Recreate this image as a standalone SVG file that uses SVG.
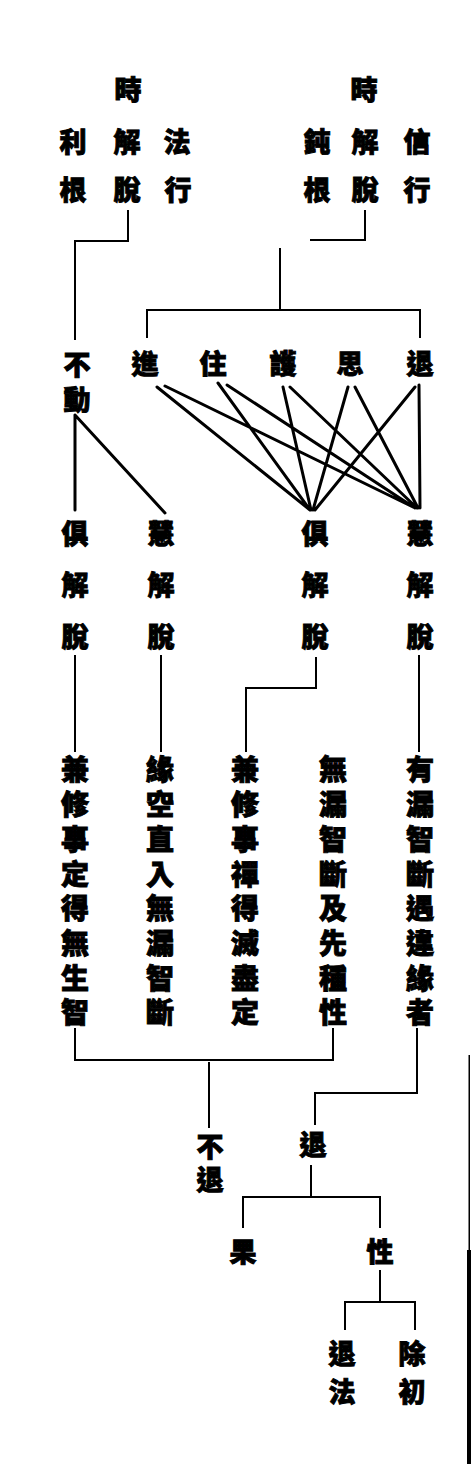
<svg xmlns="http://www.w3.org/2000/svg" width="472" height="1464" viewBox="0 0 472 1464">
<style>
.t{font-family:"Noto Sans CJK TC","Noto Sans CJK SC",sans-serif;font-weight:900;font-size:27px;fill:#000;stroke:#000;stroke-width:0.9;text-anchor:middle;dominant-baseline:central}
.c{font-size:28px}
.l{stroke:#000;stroke-width:2;fill:none}
.d{stroke:#000;stroke-width:3;fill:none;stroke-linecap:round}
</style>
<rect width="472" height="1464" fill="#fff"/>
<g id="top-left">
<text class="t" x="128" y="88">時</text>
<text class="t" x="73" y="140">利</text><text class="t" x="127" y="140">解</text><text class="t" x="177" y="140">法</text>
<text class="t" x="73" y="188">根</text><text class="t" x="127" y="188">脫</text><text class="t" x="178" y="188">行</text>
</g>
<g id="top-right">
<text class="t" x="364" y="88">時</text>
<text class="t" x="317" y="140">鈍</text><text class="t" x="365" y="140">解</text><text class="t" x="417" y="140">信</text>
<text class="t" x="317" y="188">根</text><text class="t" x="365" y="188">脫</text><text class="t" x="417" y="188">行</text>
</g>
<g id="budong"><text class="t" x="77" y="363">不</text><text class="t" x="77" y="398">動</text></g>
<g id="jin"><text class="t" x="145" y="362">進</text></g>
<g id="zhu"><text class="t" x="213" y="362">住</text></g>
<g id="hu"><text class="t" x="283" y="362">護</text></g>
<g id="si"><text class="t" x="350" y="362">思</text></g>
<g id="tui1"><text class="t" x="420" y="362">退</text></g>
<g id="ju1"><text class="t" x="75" y="532">俱</text><text class="t" x="75" y="583">解</text><text class="t" x="75" y="635">脫</text></g>
<g id="hui1"><text class="t" x="161" y="532">慧</text><text class="t" x="161" y="583">解</text><text class="t" x="161" y="635">脫</text></g>
<g id="ju2"><text class="t" x="315" y="532">俱</text><text class="t" x="315" y="583">解</text><text class="t" x="315" y="635">脫</text></g>
<g id="hui2"><text class="t" x="420" y="532">慧</text><text class="t" x="420" y="583">解</text><text class="t" x="420" y="635">脫</text></g>
<g id="col1"><text class="t c" x="75" y="768">兼</text><text class="t c" x="75" y="803">修</text><text class="t c" x="75" y="838">事</text><text class="t c" x="75" y="873">定</text><text class="t c" x="75" y="907">得</text><text class="t c" x="75" y="942">無</text><text class="t c" x="75" y="977">生</text><text class="t c" x="75" y="1011">智</text></g>
<g id="col2"><text class="t c" x="160" y="768">緣</text><text class="t c" x="160" y="803">空</text><text class="t c" x="160" y="838">直</text><text class="t c" x="160" y="873">入</text><text class="t c" x="160" y="907">無</text><text class="t c" x="160" y="942">漏</text><text class="t c" x="160" y="977">智</text><text class="t c" x="160" y="1011">斷</text></g>
<g id="col3"><text class="t c" x="245" y="768">兼</text><text class="t c" x="245" y="803">修</text><text class="t c" x="245" y="838">事</text><text class="t c" x="245" y="873">禪</text><text class="t c" x="245" y="907">得</text><text class="t c" x="245" y="942">滅</text><text class="t c" x="245" y="977">盡</text><text class="t c" x="245" y="1011">定</text></g>
<g id="col4"><text class="t c" x="333" y="768">無</text><text class="t c" x="333" y="803">漏</text><text class="t c" x="333" y="838">智</text><text class="t c" x="333" y="873">斷</text><text class="t c" x="333" y="907">及</text><text class="t c" x="333" y="942">先</text><text class="t c" x="333" y="977">種</text><text class="t c" x="333" y="1011">性</text></g>
<g id="col5"><text class="t c" x="420" y="768">有</text><text class="t c" x="420" y="803">漏</text><text class="t c" x="420" y="838">智</text><text class="t c" x="420" y="873">斷</text><text class="t c" x="420" y="907">遇</text><text class="t c" x="420" y="942">違</text><text class="t c" x="420" y="977">緣</text><text class="t c" x="420" y="1011">者</text></g>
<g id="butui"><text class="t" x="210" y="1145">不</text><text class="t" x="210" y="1178">退</text></g>
<g id="tui2"><text class="t" x="313" y="1143">退</text></g>
<g id="guo"><text class="t" x="243" y="1250">果</text></g>
<g id="xing"><text class="t" x="380" y="1250">性</text></g>
<g id="tuifa"><text class="t" x="342" y="1352">退</text><text class="t" x="342" y="1390">法</text></g>
<g id="chuchu"><text class="t" x="412" y="1352">除</text><text class="t" x="412" y="1390">初</text></g>
<g id="connectors">
<path class="l" d="M128 210V241H75V340"/>
<path class="l" d="M365 210V240H310"/>
<path class="l" d="M280 248V310M147 338V310H420V338"/>
<path class="d" d="M157 387L310 510M165 386L413 507M218 383L310 510M227 385L415 508M283 387L311 510M290 387L417 508M348 387L313 510M355 387L418 508M415 387L315 510M419 385L420 508"/>
<path class="d" d="M75 415V510M75 415L165 513"/>
<path class="l" d="M75 655V752M161 655V752M419 655V752M316 657V688H246V752"/>
<path class="l" d="M75 1028V1060H333V1028M209 1062V1128"/>
<path class="l" d="M417 1028V1093H315V1125"/>
<path class="l" d="M311 1165V1197M243 1228V1197H380V1228"/>
<path class="l" d="M380 1270V1302M345 1330V1302H415V1330"/>
<path fill="#000" d="M468.5 1055H470V1250L471 1250V1464H467V1250H468.5Z"/>
</g>
</svg>
